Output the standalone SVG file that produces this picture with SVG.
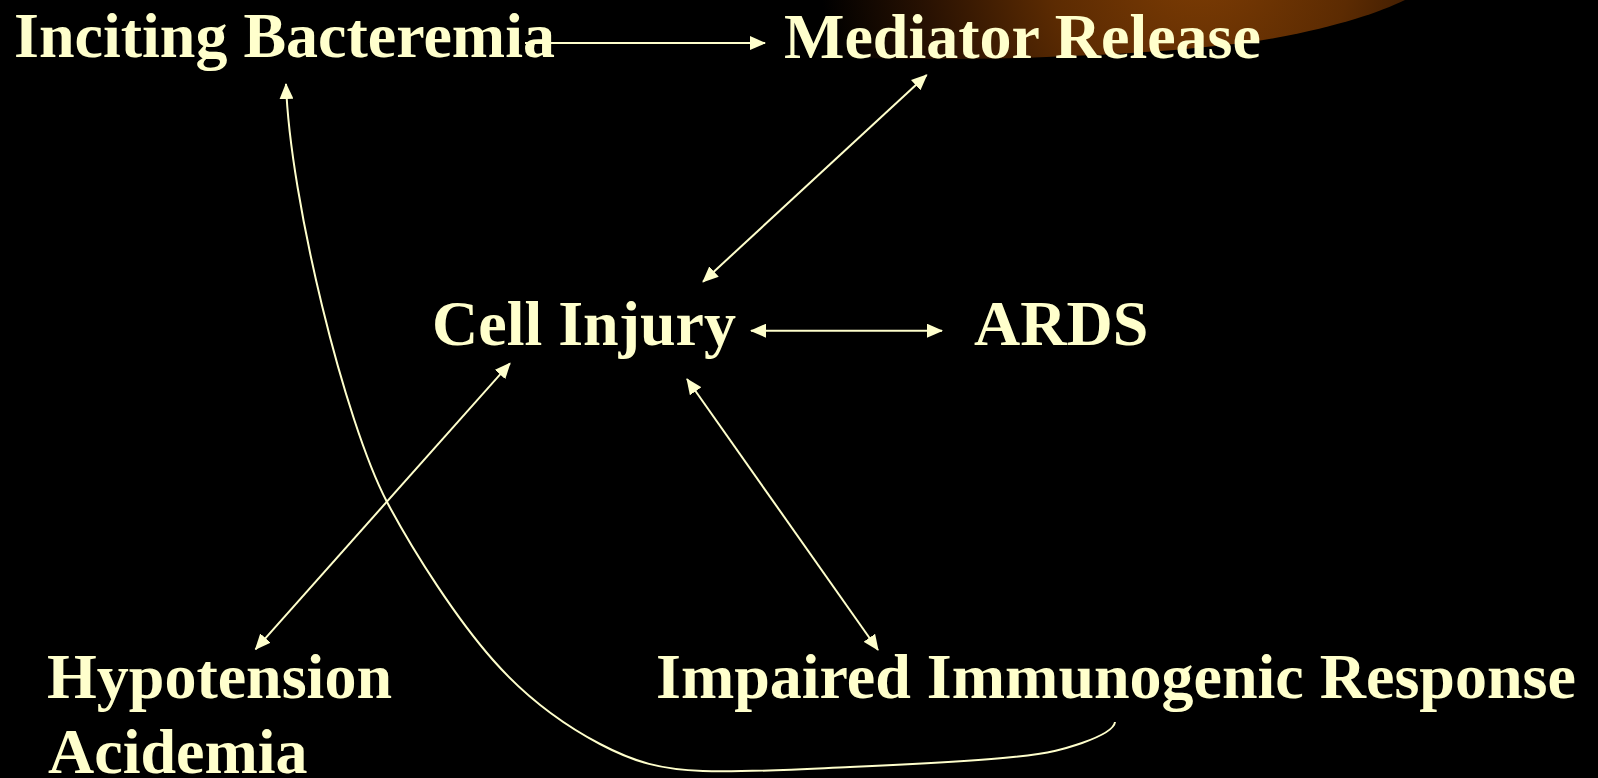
<svg xmlns="http://www.w3.org/2000/svg" width="1598" height="778" viewBox="0 0 1598 778">
  <style>
    .lbl { font-family: "Liberation Serif", "Times New Roman", serif; font-weight: bold; font-size: 64px; fill: #FFFFCC; }
    .conn { stroke: #FFFFCC; stroke-width: 2; fill: none; }
  </style>
  <defs>
    <marker id="ah" viewBox="0 0 16 14" markerWidth="16" markerHeight="14" refX="15" refY="7" orient="auto-start-reverse" markerUnits="userSpaceOnUse">
      <path d="M0,0 L16,7 L0,14 z" fill="#FFFFCC"/>
    </marker>
    <radialGradient id="glow" gradientUnits="userSpaceOnUse" cx="1200" cy="-40" r="380">
      <stop offset="0" stop-color="#7e3d04"/>
      <stop offset="0.4" stop-color="#5c2b02"/>
      <stop offset="0.72" stop-color="#2a1202"/>
      <stop offset="1" stop-color="#000000"/>
    </radialGradient>
  </defs>
  <rect width="1598" height="778" fill="#000000"/>
  <path id="glow-shape" d="M760,0 L760,50 C850,66 1150,60 1275,38 C1340,26 1380,12 1405,0 Z" fill="url(#glow)"/>

  <g id="connectors">
    <line class="conn" x1="525" y1="43" x2="765" y2="43" marker-end="url(#ah)"/>
    <line class="conn" x1="703" y1="281.7" x2="926.7" y2="75" marker-start="url(#ah)" marker-end="url(#ah)"/>
    <line class="conn" x1="751" y1="330.7" x2="942" y2="330.7" marker-start="url(#ah)" marker-end="url(#ah)"/>
    <line class="conn" x1="255.5" y1="649.3" x2="510" y2="363.3" marker-start="url(#ah)" marker-end="url(#ah)"/>
    <line class="conn" x1="687" y1="379" x2="878" y2="650" marker-start="url(#ah)" marker-end="url(#ah)"/>
    <path class="conn" stroke-width="1.8" d="M1115,722 C1114,730 1099,737 1082,743 C1065,748.8 1051.7,753 1013,757 C974.3,761 901.7,764.7 850,767 C798.3,769.3 744.7,772.5 703,771 C661.3,769.5 635,762.5 600,744 C565,725.5 528.5,700.3 493,660 C457.5,619.7 415.3,555.3 387,502 C345,422 290,200 286,84" marker-end="url(#ah)"/>
  </g>

  <g id="node-inciting"><text class="lbl" x="14" y="57">Inciting Bacteremia</text></g>
  <g id="node-mediator"><text class="lbl" x="784" y="58">Mediator Release</text></g>
  <g id="node-cell"><text class="lbl" x="432" y="345">Cell Injury</text></g>
  <g id="node-ards"><text class="lbl" x="974" y="345">ARDS</text></g>
  <g id="node-hypotension"><text class="lbl" x="47" y="698">Hypotension</text><text class="lbl" x="48" y="773">Acidemia</text></g>
  <g id="node-impaired"><text class="lbl" x="656" y="698">Impaired Immunogenic Response</text></g>
</svg>
